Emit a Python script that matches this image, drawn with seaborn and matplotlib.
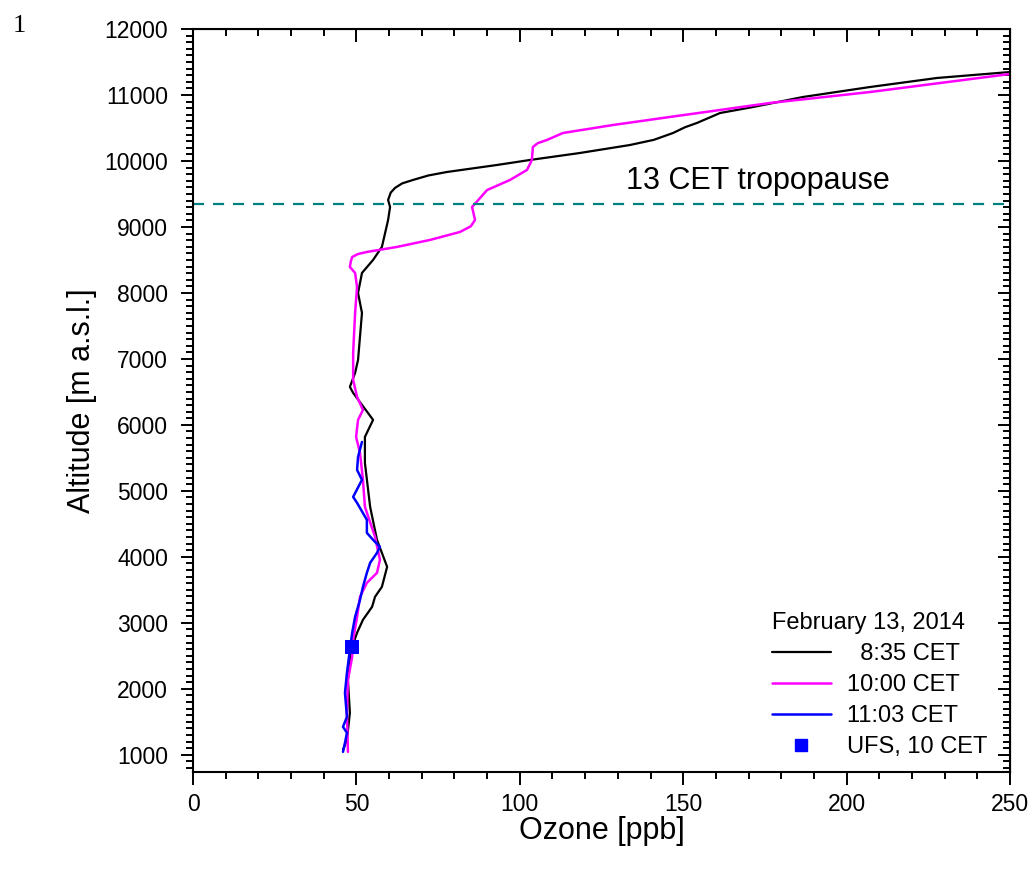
import pandas as pd
import matplotlib
matplotlib.use("Agg")
import matplotlib.pyplot as plt
import seaborn as sns
from matplotlib.ticker import MultipleLocator
from matplotlib.lines import Line2D

# ozone profiles (ppb, m a.s.l.)
ozone_0835 = [45.9, 47.1, 48.0, 47.4, 48.7, 50.2, 52.0, 54.8, 55.7, 57.8, 59.4, 56.3, 54.2, 52.6,
              52.6, 55.1, 49.0, 48.0, 49.6, 50.5, 51.7, 50.5, 51.7, 55.1, 57.8, 59.7, 60.3, 59.7,
              60.5, 61.8, 64.0, 67.3, 72.0, 77.7, 93.0, 103.1, 118.4, 133.7, 141.0, 146.9, 150.5,
              154.2, 161.3, 171.4, 186.7, 207.2, 227.7, 250.0]
alt_0835 = [1076, 1227, 1636, 2137, 2637, 2849, 3046, 3243, 3395, 3546, 3849, 4258, 4758, 5424,
            5818, 6076, 6485, 6576, 6788, 6985, 7697, 8000, 8303, 8500, 8697, 9106, 9303, 9409,
            9520, 9591, 9660, 9712, 9780, 9833, 9939, 10015, 10121, 10242, 10320, 10424, 10510,
            10576, 10727, 10818, 10970, 11121, 11258, 11348]

ozone_1000 = [47.4, 47.1, 47.4, 48.7, 49.0, 50.2, 51.1, 53.2, 56.3, 57.2, 55.7, 52.6, 52.0, 51.1,
              49.9, 50.5, 52.0, 50.2, 49.0, 49.0, 49.6, 50.2, 49.6, 48.0, 48.3, 48.7, 50.5, 53.2,
              62.4, 72.5, 81.7, 85.0, 86.3, 85.4, 90.0, 97.0, 102.2, 103.7, 104.0, 105.5, 108.3,
              113.2, 128.5, 143.8, 161.3, 176.6, 207.2, 250.0]
alt_1000 = [1045, 1636, 2137, 2485, 2743, 3091, 3394, 3606, 3758, 3955, 4303, 4758, 5167, 5576,
            5818, 6076, 6227, 6424, 6682, 7091, 7697, 8091, 8303, 8394, 8480, 8545, 8590, 8621,
            8697, 8803, 8924, 9010, 9106, 9303, 9560, 9712, 9864, 10015, 10212, 10270, 10318,
            10424, 10545, 10652, 10773, 10879, 11045, 11318]

ozone_1103 = [45.9, 46.5, 47.1, 45.9, 47.1, 46.5, 47.1, 48.0, 48.7, 49.6, 51.1, 52.0, 53.2, 54.2,
              56.3, 57.2, 55.1, 53.2, 53.2, 50.2, 49.0, 51.7, 50.2, 50.5, 51.7]
alt_1103 = [1045, 1182, 1333, 1424, 1576, 1939, 2242, 2591, 2849, 3091, 3349, 3546, 3758, 3909,
            4061, 4152, 4258, 4364, 4561, 4818, 4909, 5167, 5318, 5515, 5742]

ufs_ozone = [48.7]
ufs_alt = [2640]

tropopause_alt = 9350

sns.set_style("ticks")
plt.rcParams["font.family"] = ["Liberation Sans", "DejaVu Sans"]
plt.rcParams.update({"text.color": "black", "axes.labelcolor": "black",
                     "xtick.color": "black", "ytick.color": "black",
                     "axes.edgecolor": "black"})

fig = plt.figure(figsize=(10.35, 8.71), dpi=100)
ax = fig.add_axes([0.1865, 0.1137, 0.7893, 0.853])

series = [(ozone_0835, alt_0835, "black", 1.6),
          (ozone_1000, alt_1000, "#ff00ff", 1.8),
          (ozone_1103, alt_1103, "#0000ff", 1.8)]
for oz, al, col, lw in series:
    df = pd.DataFrame({"ozone": oz, "alt": al})
    sns.lineplot(data=df, x="ozone", y="alt", sort=False, estimator=None,
                 color=col, linewidth=lw, ax=ax)

ax.scatter(ufs_ozone, ufs_alt, marker="s", s=100, color="#0000ff", zorder=5, linewidths=0)

ax.axhline(tropopause_alt, color="#008080", linestyle=(0, (5, 4)), linewidth=1.6)
ax.text(132.5, 9700, "13 CET tropopause", fontsize=22, va="center", ha="left")

ax.set_xlim(0, 250)
ax.set_ylim(740, 12000)
ax.set_xticks([0, 50, 100, 150, 200, 250])
ax.set_yticks(range(1000, 12001, 1000))
ax.xaxis.set_minor_locator(MultipleLocator(10))
ax.yaxis.set_minor_locator(MultipleLocator(100))
ax.tick_params(which="major", direction="out", length=9, width=1.4, labelsize=16.5, pad=6)
ax.tick_params(which="minor", direction="out", length=5, width=1.4)
ax.tick_params(axis="y", which="major", pad=9)
for s in ax.spines.values():
    s.set_visible(True)
    s.set_linewidth(1.5)

top = ax.secondary_xaxis("top")
top.set_xticks([0, 50, 100, 150, 200, 250])
top.xaxis.set_minor_locator(MultipleLocator(10))
top.tick_params(which="major", direction="in", length=9, width=1.4, labeltop=False)
top.tick_params(which="minor", direction="in", length=5, width=1.4)
right = ax.secondary_yaxis("right")
right.set_yticks(range(1000, 12001, 1000))
right.yaxis.set_minor_locator(MultipleLocator(100))
right.tick_params(which="major", direction="in", length=9, width=1.4, labelright=False)
right.tick_params(which="minor", direction="in", length=5, width=1.4)

ax.set_xlabel("Ozone [ppb]", fontsize=22, labelpad=0)
ax.set_ylabel("Altitude [m a.s.l.]", fontsize=22, labelpad=5)

handles = [Line2D([], [], color="black", lw=1.6),
           Line2D([], [], color="#ff00ff", lw=1.8),
           Line2D([], [], color="#0000ff", lw=1.8),
           Line2D([], [], color="#0000ff", marker="s", markersize=8, lw=0)]
labels = ["  8:35 CET", "10:00 CET", "11:03 CET", "UFS, 10 CET"]
leg = ax.legend(handles, labels, title="February 13, 2014", loc="lower right",
                bbox_to_anchor=(0.99, 0.0), frameon=False, fontsize=17, title_fontsize=17,
                handlelength=2.5, handletextpad=0.7, labelspacing=0.38, borderaxespad=0.2,
                alignment="left")

fig.text(0.012, 0.97, "1", fontsize=19, family="Liberation Serif", va="center")

fig.savefig("out.png", dpi=100)
